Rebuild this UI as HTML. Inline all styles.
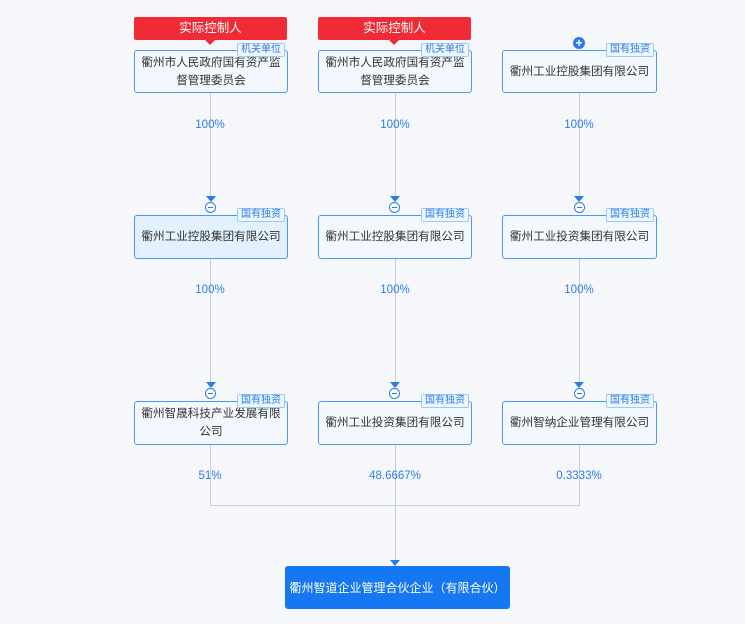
<!DOCTYPE html>
<html><head><meta charset="utf-8"><style>
body{margin:0;width:745px;height:624px;background:#f5f7fb;position:relative;overflow:hidden;font-family:"Liberation Sans","Noto Sans CJK SC",sans-serif}
.b{position:absolute;box-sizing:border-box;border:1px solid #4a97f5;border-radius:3px;background:#f3f8ff;display:flex;align-items:center;justify-content:center;text-align:center;font-size:11.6px;color:#333;line-height:18px;padding:0;white-space:nowrap}
.t{position:absolute;box-sizing:border-box;height:14px;border:1px solid #9ccaf8;background:#eef6ff;color:#2a7de8;font-size:10px;line-height:12px;padding:0 3px;border-radius:2px}
.r{position:absolute;height:23px;width:153px;background:#f12b36;color:#fff;font-size:12.5px;line-height:23px;text-align:center;border-radius:2px}
.r:after{content:"";position:absolute;left:71px;bottom:-5px;border-left:5px solid transparent;border-right:5px solid transparent;border-top:5px solid #f12b36}
.v{position:absolute;width:1px;background:#c8cdd6}
.h{position:absolute;height:1px;background:#c8cdd6}
.p{position:absolute;font-size:11.5px;color:#2a7de8;width:100px;text-align:center}
.a{position:absolute;width:0;height:0;border-left:5px solid transparent;border-right:5px solid transparent;border-top:6px solid #2a7de8}
.c{position:absolute;width:11px;height:11px;border:1px solid #2a7de8;border-radius:50%;background:#fff;box-sizing:border-box}
.c:after{content:"";position:absolute;left:2px;top:4px;width:5px;height:1px;background:#2a7de8}
</style></head><body>
<div class="r" style="left:134px;top:17px">实际控制人</div>
<div class="r" style="left:318px;top:17px">实际控制人</div>

<div class="v" style="left:210px;top:92px;height:104px"></div>
<div class="v" style="left:395px;top:92px;height:104px"></div>
<div class="v" style="left:579px;top:92px;height:104px"></div>
<div class="v" style="left:210px;top:258px;height:124px"></div>
<div class="v" style="left:395px;top:258px;height:124px"></div>
<div class="v" style="left:579px;top:258px;height:124px"></div>
<div class="v" style="left:210px;top:444px;height:61px"></div>
<div class="v" style="left:395px;top:444px;height:116px"></div>
<div class="v" style="left:579px;top:444px;height:61px"></div>
<div class="h" style="left:210px;top:505px;width:370px"></div>

<div class="p" style="left:160px;top:119px">100%</div>
<div class="p" style="left:345px;top:119px">100%</div>
<div class="p" style="left:529px;top:119px">100%</div>
<div class="p" style="left:160px;top:284px">100%</div>
<div class="p" style="left:345px;top:284px">100%</div>
<div class="p" style="left:529px;top:284px">100%</div>
<div class="p" style="left:160px;top:470px">51%</div>
<div class="p" style="left:345px;top:470px">48.6667%</div>
<div class="p" style="left:529px;top:470px">0.3333%</div>

<div class="a" style="left:206px;top:196px"></div><div class="c" style="left:205px;top:202px"></div>
<div class="a" style="left:390px;top:196px"></div><div class="c" style="left:389px;top:202px"></div>
<div class="a" style="left:574px;top:196px"></div><div class="c" style="left:574px;top:202px"></div>
<div class="a" style="left:206px;top:382px"></div><div class="c" style="left:205px;top:388px"></div>
<div class="a" style="left:390px;top:382px"></div><div class="c" style="left:389px;top:388px"></div>
<div class="a" style="left:574px;top:382px"></div><div class="c" style="left:574px;top:388px"></div>
<div class="a" style="left:390px;top:560px"></div>

<div class="b" style="left:134px;top:50px;width:154px;height:43px">衢州市人民政府国有资产监<br>督管理委员会</div>
<div class="b" style="left:318px;top:50px;width:154px;height:43px">衢州市人民政府国有资产监<br>督管理委员会</div>
<div class="b" style="left:502px;top:50px;width:155px;height:43px">衢州工业控股集团有限公司</div>
<div style="position:absolute;left:573px;top:37px;width:12px;height:12px;border-radius:50%;background:#2a7de8;color:#fff;font-size:12px;line-height:12px;text-align:center;font-weight:bold">+</div>

<div class="b" style="left:134px;top:215px;width:154px;height:44px;background:#e3f1ff">衢州工业控股集团有限公司</div>
<div class="b" style="left:318px;top:215px;width:154px;height:44px">衢州工业控股集团有限公司</div>
<div class="b" style="left:502px;top:215px;width:155px;height:44px">衢州工业投资集团有限公司</div>

<div class="b" style="left:134px;top:401px;width:154px;height:44px">衢州智晟科技产业发展有限<br>公司</div>
<div class="b" style="left:318px;top:401px;width:154px;height:44px">衢州工业投资集团有限公司</div>
<div class="b" style="left:502px;top:401px;width:155px;height:44px">衢州智纳企业管理有限公司</div>

<div class="t" style="left:237px;top:43px">机关单位</div>
<div class="t" style="left:421px;top:43px">机关单位</div>
<div class="t" style="left:606px;top:43px">国有独资</div>
<div class="t" style="left:237px;top:208px">国有独资</div>
<div class="t" style="left:421px;top:208px">国有独资</div>
<div class="t" style="left:606px;top:208px">国有独资</div>
<div class="t" style="left:237px;top:394px">国有独资</div>
<div class="t" style="left:421px;top:394px">国有独资</div>
<div class="t" style="left:606px;top:394px">国有独资</div>

<div class="b" style="left:285px;top:566px;width:225px;height:43px;background:#1677f2;border-color:#1677f2;color:#fff;font-size:12px">衢州智道企业管理合伙企业（有限合伙）</div>
</body></html>
